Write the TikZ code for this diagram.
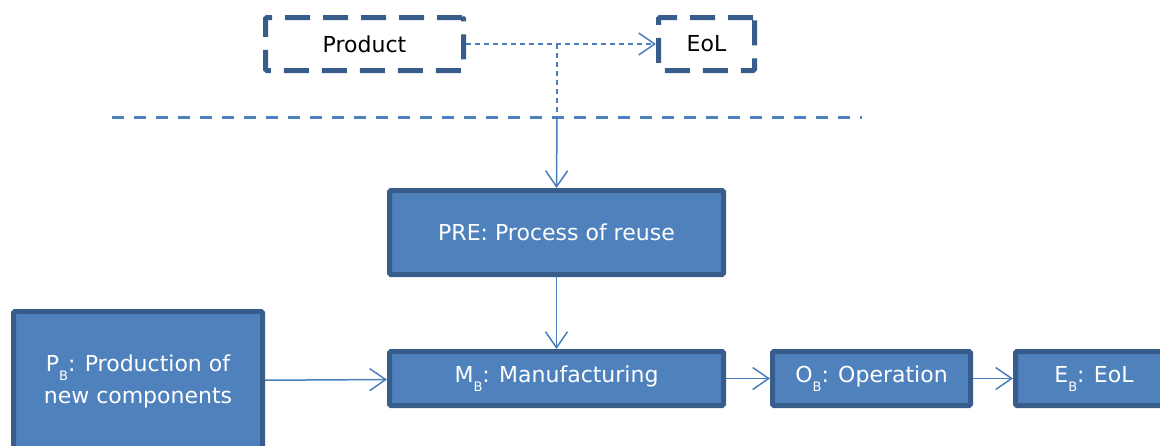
\documentclass[tikz,border=0pt]{standalone}
\usepackage{fontspec}
\setmainfont{DejaVu Sans}
\usetikzlibrary{arrows.meta}
\definecolor{boxfill}{HTML}{4F81BD}
\definecolor{boxline}{HTML}{385D8A}
\definecolor{linkcol}{HTML}{4A7EBB}
\newcommand{\lowidx}[1]{\raisebox{-0.75ex}{\fontsize{13}{13}\selectfont #1}}
\begin{document}
\begin{tikzpicture}[x=1pt,y=-1pt,
	stage/.style={draw=boxline,fill=boxfill,line width=5pt,rounded corners=1.5pt,
		text=white,font=\fontsize{22}{32}\selectfont,align=center,inner sep=0pt},
	object/.style={draw=boxline,fill=white,line width=5pt,rounded corners=1.5pt,
		dash pattern=on 25pt off 13pt,font=\fontsize{22}{32}\selectfont,inner sep=0pt},
	link/.style={draw=linkcol,line width=1.5pt,-{Straight Barb[length=16pt,width=22pt]}}]
		\useasboundingbox (0,0) rectangle (1160,445);
		\clip (0,0) rectangle (1160,445);
		% top: product and its end of life
		\node[object,minimum width=198pt,minimum height=53pt] (product) at (364.5,44) {Product};
		\node[object,minimum width=96pt,minimum height=53pt] (eol) at (706.5,44) {EoL};
		\draw[dashed,draw=boxfill,line width=3pt,dash pattern=on 12pt off 10pt] (112,117) -- (862,117);
		\coordinate (split) at (557,44);
		\coordinate (cut) at (557,117);
		% stages
		\node[stage,minimum width=334pt,minimum height=84pt] (pre) at (556.5,232.5) {PRE: Process of reuse};
		\node[stage,minimum width=334pt,minimum height=54pt] (mb) at (556.5,378.5) {M\lowidx{B}: Manufacturing};
		\node[stage,minimum width=198pt,minimum height=54pt] (ob) at (871.5,378.5) {O\lowidx{B}: Operation};
		\node[stage,minimum width=157pt,minimum height=54pt] (eb) at (1094,378.5) {E\lowidx{B}: EoL};
		\node[stage,minimum width=249pt,minimum height=139pt] (pb) at (138,381) {P\lowidx{B}: Production of\\new components};
		% connectors
		\draw[link,dash pattern=on 5pt off 4pt] (product) -- (eol);
		\draw[draw=linkcol,line width=1.5pt,dash pattern=on 5pt off 4pt] (split) -- (cut);
		\draw[link] (cut) -- (pre.north);
		\draw[link] (pre) -- (mb);
		\draw[link] (pb) -- (mb);
		\draw[link] (mb) -- (ob);
		\draw[link] (ob) -- (eb);
	\end{tikzpicture}
\end{document}
